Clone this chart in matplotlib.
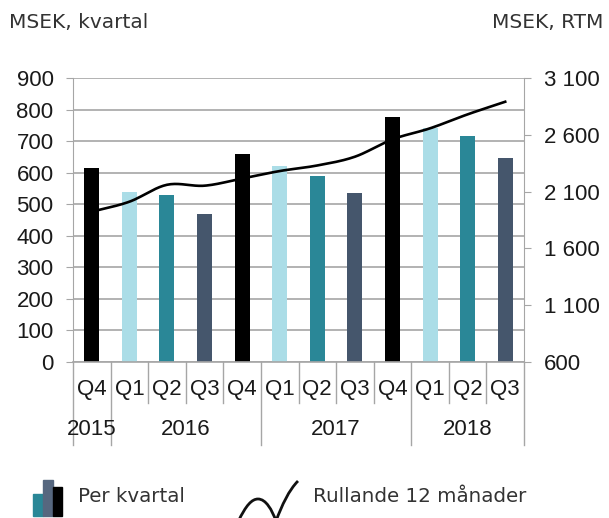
import numpy as np
import matplotlib.pyplot as plt
import matplotlib.transforms as mtransforms
from matplotlib.path import Path
from matplotlib.patches import PathPatch, Rectangle

# data
quarters = ['Q4', 'Q1', 'Q2', 'Q3', 'Q4', 'Q1', 'Q2', 'Q3', 'Q4', 'Q1', 'Q2', 'Q3']
years = ['2015', '2016', '2017', '2018']
year_spans = [(0, 0), (1, 4), (5, 8), (9, 11)]
per_kvartal = [614, 538, 530, 468, 660, 620, 589, 536, 777, 740, 716, 648]
rullande_12 = [1923, 2011, 2160, 2152, 2215, 2281, 2330, 2407, 2560, 2657, 2780, 2891]

c_black = '#000000'
c_light = '#abdde7'
c_teal = '#2a8797'
c_slate = '#45566c'
bar_colors = [c_black, c_light, c_teal, c_slate] * 3

txt = '#333333'
lab = '#1a1a1a'
grid_c = '#a6a6a6'
plt.rcParams['font.family'] = ['Liberation Sans', 'DejaVu Sans']


def smooth(x, y, n=20):
    # catmull-rom style smoothing like excel's smoothed line
    x = np.asarray(x, float)
    y = np.asarray(y, float)
    px = np.concatenate([[2 * x[0] - x[1]], x, [2 * x[-1] - x[-2]]])
    py = np.concatenate([[2 * y[0] - y[1]], y, [2 * y[-1] - y[-2]]])
    xs, ys = [], []
    for i in range(1, len(px) - 2):
        t = np.linspace(0, 1, n, endpoint=False)
        for p, out in ((px, xs), (py, ys)):
            p0, p1, p2, p3 = p[i - 1], p[i], p[i + 1], p[i + 2]
            out.extend(0.5 * (2 * p1 + (-p0 + p2) * t + (2 * p0 - 5 * p1 + 4 * p2 - p3) * t ** 2
                              + (-p0 + 3 * p1 - 3 * p2 + p3) * t ** 3))
    xs.append(x[-1])
    ys.append(y[-1])
    return np.array(xs), np.array(ys)


fig = plt.figure(figsize=(6.09, 5.18), dpi=100)
ax = fig.add_axes([73 / 609, 156 / 518, 451 / 609, 284 / 518])
x = np.arange(len(per_kvartal))
ax.bar(x, per_kvartal, width=0.40, color=bar_colors, zorder=2)
ax.set_xlim(-0.5, 11.5)
ax.set_ylim(0, 900)
ax.set_yticks(range(0, 901, 100))
ax.grid(axis='y', color=grid_c, linewidth=1.2, zorder=0)
ax.tick_params(axis='y', length=5, color=grid_c, labelsize=16, labelcolor=lab, pad=9)
ax.set_xticks([])
for s in ['top', 'bottom', 'right']:
    ax.spines[s].set_visible(False)
ax.spines['left'].set_color(grid_c)

ax2 = ax.twinx()
xs, ys = smooth(x, rullande_12)
ax2.plot(xs, ys, color='black', linewidth=1.9, zorder=3)
ax2.set_ylim(600, 3100)
ax2.set_yticks(range(600, 3101, 500))
ax2.set_yticklabels([f'{v:,}'.replace(',', ' ') for v in range(600, 3101, 500)])
ax2.tick_params(axis='y', length=5, color=grid_c, labelsize=16, labelcolor=lab, pad=9.5)
for s in ['top', 'bottom', 'left']:
    ax2.spines[s].set_visible(False)
ax2.spines['right'].set_color(grid_c)

# category axis
trans = mtransforms.blended_transform_factory(ax.transData, ax.transAxes)
ax.plot([-0.5, 11.5], [0, 0], color=grid_c, linewidth=1.2, transform=trans, clip_on=False, zorder=4)
long_at = [-0.5, 0.5, 4.5, 8.5, 11.5]
for b in np.arange(-0.5, 12, 1.0):
    y_end = -0.292 if b in long_at else -0.144
    ax.plot([b, b], [0, y_end], color=grid_c, linewidth=1, transform=trans, clip_on=False)
for i, q in enumerate(quarters):
    ax.text(i, -0.098, q, transform=trans, ha='center', va='center', fontsize=16, color=lab)
for yr, (a, b) in zip(years, year_spans):
    ax.text((a + b) / 2, -0.239, yr, transform=trans, ha='center', va='center', fontsize=16, color=lab)

# headers
hfont = ['DejaVu Sans']
fig.text(9 / 609, 1 - 22.5 / 518, 'MSEK, kvartal', fontsize=14.5, color=txt, family=hfont, va='center')
fig.text(603 / 609, 1 - 22.5 / 518, 'MSEK, RTM', fontsize=14.5, color=txt, family=hfont,
         va='center', ha='right')

# legend
px = fig.transFigure
W, H = 609, 518
for x0, x1, ytop, col in [(32.7, 43.3, 494, c_teal), (43.3, 52.7, 480, '#56677f'), (52.7, 62.3, 487, c_black)]:
    fig.patches.append(Rectangle((x0 / W, 1 - 516 / H), (x1 - x0) / W, (516 - ytop) / H,
                                 transform=px, color=col))
fig.text(78 / W, 1 - 497 / H, 'Per kvartal', fontsize=14.3, color=txt, family=hfont, va='center')
verts = [(238, 522), (246, 505), (252, 499), (258, 499),
         (266, 499), (272, 510), (276, 521),
         (282, 505), (289, 490), (298, 481)]
verts = [(vx / W, 1 - vy / H) for vx, vy in verts]
codes = [Path.MOVETO] + [Path.CURVE4] * 9
fig.patches.append(PathPatch(Path(verts, codes), transform=px, fill=False, lw=2, color='#111111'))
fig.text(313 / W, 1 - 497 / H, 'Rullande 12 månader', fontsize=14.3, color=txt, family=hfont,
         va='center')

fig.savefig('out.png', dpi=100)
